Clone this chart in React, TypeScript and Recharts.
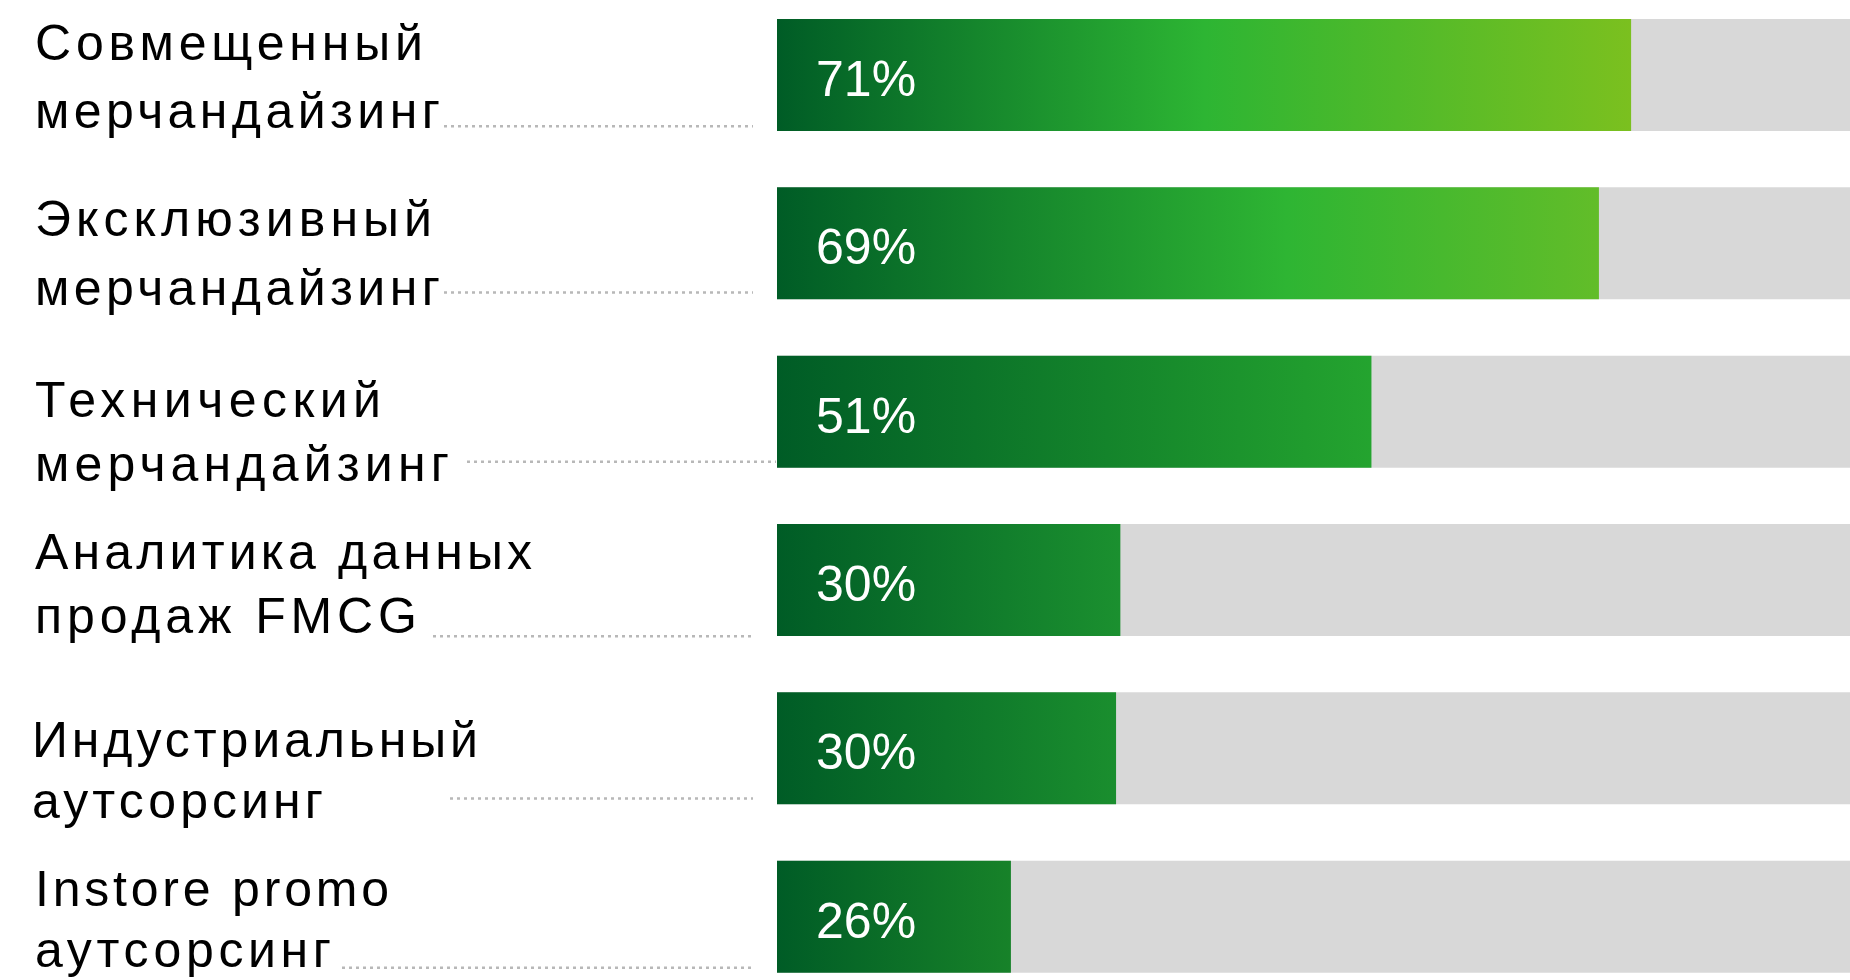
import { BarChart, Bar, XAxis, YAxis, Cell, LabelList } from 'recharts'

// categories, two lines each
const categories = [
  ['Совмещенный', 'мерчандайзинг'],
  ['Эксклюзивный', 'мерчандайзинг'],
  ['Технический', 'мерчандайзинг'],
  ['Аналитика данных', 'продаж FMCG'],
  ['Индустриальный', 'аутсорсинг'],
  ['Instore promo', 'аутсорсинг'],
]

// printed shares, %
const shares = [71, 69, 51, 30, 30, 26]

// bar lengths as drawn, in % of the grey track
const barLengths = [79.6, 76.6, 55.4, 32.0, 31.6, 21.8]

// layout of the left labels (not data)
const LABEL_X = [35, 35, 35, 35, 32, 35]
const LINE1_DY = [-15, -8, 5, -11, 8, -11]
const LINE2_DY = [53, 61, 69, 53, 69, 50]
const LINE1_W = [388, 397, 346, 497, 446, 354]
const LINE2_W = [405, 405, 414, 382, 291, 296]
const LEADER_DY = [51, 49, 50, 56, 50, 51]
const LEADER_START = [444, 444, 467, 433, 450, 342]
const LEADER_END = [753, 753, 776, 753, 753, 753]

const GRADIENTS: [string, string][][] = [
  [['0%', '#005c26'], ['50%', '#2db533'], ['100%', '#7bc01f']],
  [['0%', '#005c26'], ['62%', '#2eb533'], ['100%', '#62bd29']],
  [['0%', '#005c26'], ['100%', '#24a42f']],
  [['0%', '#005c26'], ['100%', '#1b902f']],
  [['0%', '#005c26'], ['100%', '#1a8e2e']],
  [['0%', '#005c26'], ['100%', '#178229']],
]

const FONT = '"Liberation Sans", Arial, Helvetica, sans-serif'

const data = categories.map((lines, i) => ({
  name: lines.join(' '),
  share: shares[i],
  length: barLengths[i],
}))

function CategoryTick(props: any) {
  const { y, payload } = props
  const i = payload?.index ?? props.index ?? 0
  const [l1, l2] = categories[i]
  return (
    <g>
      <text
        x={LABEL_X[i]}
        y={y + LINE1_DY[i]}
        fill="#000"
        fontSize={50}
        fontFamily={FONT}
        textLength={LINE1_W[i]}
        lengthAdjust="spacing"
      >
        {l1}
      </text>
      <text
        x={LABEL_X[i]}
        y={y + LINE2_DY[i]}
        fill="#000"
        fontSize={50}
        fontFamily={FONT}
        textLength={LINE2_W[i]}
        lengthAdjust="spacing"
      >
        {l2}
      </text>
      <line
        x1={LEADER_START[i]}
        x2={LEADER_END[i]}
        y1={y + LEADER_DY[i]}
        y2={y + LEADER_DY[i]}
        stroke="#b8b8b8"
        strokeWidth={2.5}
        strokeDasharray="3 4"
      />
    </g>
  )
}

function ShareLabel(props: any) {
  const { x, y, height, value } = props
  return (
    <text
      x={x + 39}
      y={y + height / 2 + 21}
      fill="#fff"
      fontSize={50}
      fontFamily={FONT}
    >
      {value}%
    </text>
  )
}

export default function App() {
  return (
    <div
      style={{
        position: 'fixed',
        left: 0,
        top: 0,
        width: 1850,
        height: 980,
        overflow: 'hidden',
        background: '#fff',
      }}
    >
      <div style={{ marginTop: -9 }}>
        <BarChart
          width={1850}
          height={1010}
          data={data}
          layout="vertical"
          margin={{ top: 0, right: 0, bottom: 0, left: 0 }}
        >
          <defs>
            {GRADIENTS.map((stops, i) => (
              <linearGradient key={i} id={`bar-grad-${i}`} x1="0" y1="0" x2="1" y2="0">
                {stops.map(([offset, color]) => (
                  <stop key={offset} offset={offset} stopColor={color} />
                ))}
              </linearGradient>
            ))}
          </defs>
          <XAxis type="number" domain={[0, 100]} hide />
          <YAxis
            type="category"
            dataKey="name"
            width={777}
            axisLine={false}
            tickLine={false}
            tick={<CategoryTick />}
            interval={0}
          />
          <Bar
            dataKey="length"
            barSize={112}
            background={{ fill: '#d8d8d8' }}
            isAnimationActive={false}
          >
            {data.map((_, i) => (
              <Cell key={i} fill={`url(#bar-grad-${i})`} />
            ))}
            <LabelList dataKey="share" content={<ShareLabel />} />
          </Bar>
        </BarChart>
      </div>
    </div>
  )
}
